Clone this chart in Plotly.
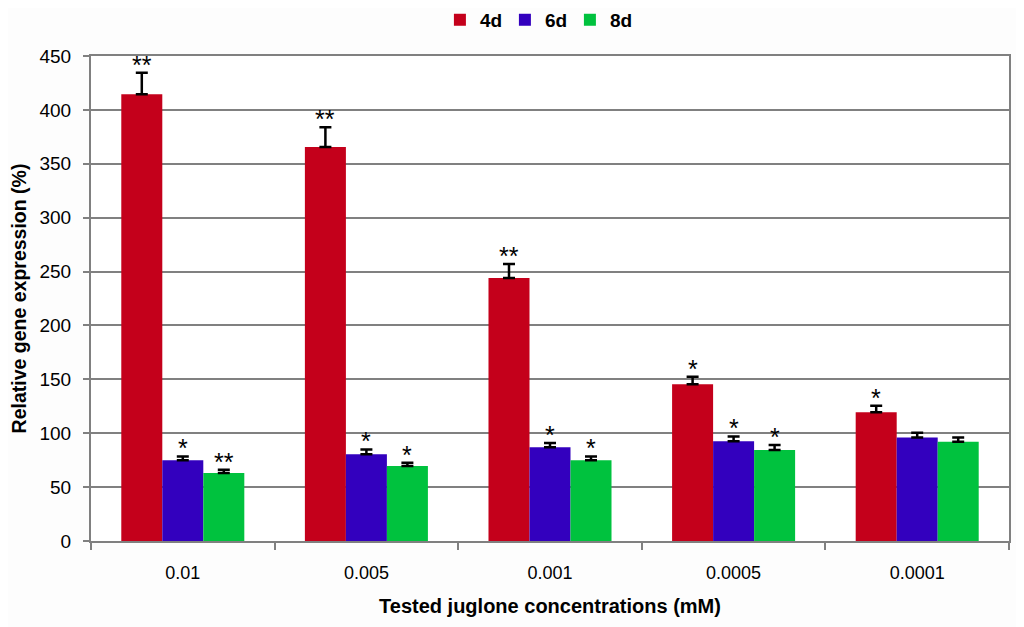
import plotly.graph_objects as go

categories = ["0.01", "0.005", "0.001", "0.0005", "0.0001"]
series_names = ["4d", "6d", "8d"]
values_4d = [414.5, 365.5, 244.0, 145.5, 119.5]
values_6d = [75.0, 80.5, 87.0, 92.5, 96.0]
values_8d = [63.0, 69.5, 75.0, 84.5, 92.0]
err_4d = [20.0, 18.5, 13.0, 7.0, 6.0]
err_6d = [3.5, 4.5, 4.0, 4.5, 4.5]
err_8d = [3.0, 3.0, 3.5, 4.5, 4.0]
sig_4d = ["**", "**", "**", "*", "*"]
sig_6d = ["*", "*", "*", "*", ""]
sig_8d = ["**", "*", "*", "*", ""]
y_ticks = [0, 50, 100, 150, 200, 250, 300, 350, 400, 450]

colors = ["#C4001B", "#3300BE", "#00C23E"]
values = [values_4d, values_6d, values_8d]
errors = [err_4d, err_6d, err_8d]
sigs = [sig_4d, sig_6d, sig_8d]

fig = go.Figure()
for name, vals, errs, col in zip(series_names, values, errors, colors):
    fig.add_trace(go.Bar(
        x=categories, y=vals, name=name,
        marker=dict(color=col, line=dict(width=0)),
        error_y=dict(type="data", array=errs, arrayminus=[0] * len(errs),
                     symmetric=False, color="black", thickness=2.5, width=6),
    ))

# significance marks above error bars
plot_w = 1024 - 83 - 23
cat_px = plot_w / len(categories)
bar_px = cat_px * 0.67 / 3
for i, (vals, errs, sg) in enumerate(zip(values, errors, sigs)):
    for j, (v, e, s) in enumerate(zip(vals, errs, sg)):
        if s:
            fig.add_annotation(x=j, y=v + e, text=s, showarrow=False,
                               xshift=(i - 1) * bar_px, yshift=-8,
                               yanchor="bottom",
                               font=dict(family="Liberation Sans, Arial", size=25, color="black"))

fig.update_layout(
    width=1024, height=627,
    margin=dict(l=83, r=23, t=48, b=94, autoexpand=False),
    paper_bgcolor="#fdfdfd", plot_bgcolor="white",
    barmode="group", bargap=0.33, bargroupgap=0,
    font=dict(family="Liberation Sans, Arial", size=19, color="black"),
    legend=dict(orientation="h", xref="container", yref="container",
                x=0.517, xanchor="center", y=0.981, yanchor="middle",
                font=dict(family="Liberation Sans, Arial", size=19, weight="bold"),
                itemwidth=30, entrywidth=20, entrywidthmode="pixels",
                traceorder="normal", bgcolor="rgba(0,0,0,0)"),
    showlegend=True,
)
fig.update_xaxes(
    type="category", tickson="boundaries", ticks="outside", ticklen=7, tickcolor="#808080",
    tickwidth=1.5, automargin=False, ticklabelstandoff=14,
    showline=True, linecolor="#808080", linewidth=2, mirror=True,
    tickfont=dict(size=18),
    title=dict(text="<b>Tested juglone concentrations (mM)</b>", standoff=17,
               font=dict(family="Liberation Sans, Arial", size=20)),
)
fig.update_yaxes(
    range=[0, 450], tickvals=y_ticks, ticks="outside", ticklen=6, tickcolor="#808080",
    tickwidth=1.5, automargin=False, ticklabelstandoff=8,
    showgrid=True, gridcolor="#808080", gridwidth=1.5,
    showline=True, linecolor="#808080", linewidth=2, mirror=True,
    zeroline=False, tickfont=dict(size=19),
    title=dict(text="<b>Relative gene expression (%)</b>", standoff=12,
               font=dict(family="Liberation Sans, Arial", size=19.5)),
)

fig.write_html("out.html")
